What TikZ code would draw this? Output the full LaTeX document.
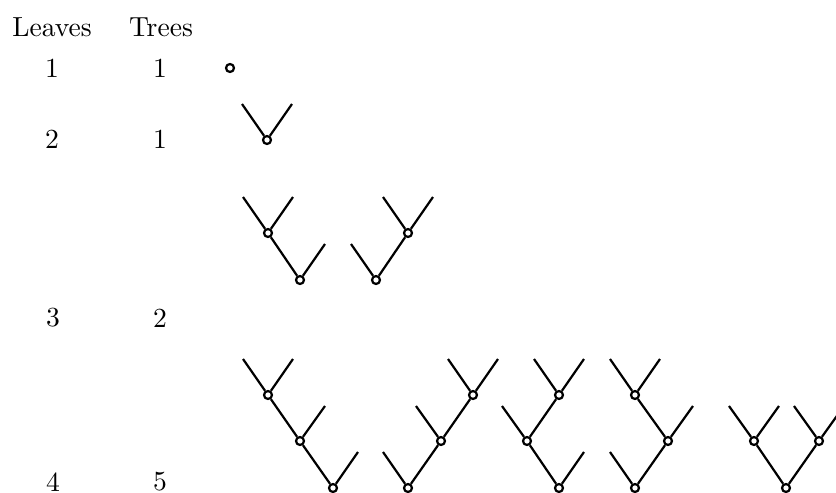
\documentclass[tikz,border=0pt]{standalone}
\usepackage{tikz}

\tikzset{
  vert/.style={draw, circle, line width=0.8pt, inner sep=0pt, minimum size=2.9pt},
  branch/.style={line width=0.8pt}
}

\begin{document}
\begin{tikzpicture}[x=0.3623pt, y=-0.3623pt]
        \useasboundingbox (0,0) rectangle (836,493);

        % Labels
        \node (leaves) at (52,27) {Leaves};
        \node (trees) at (161,27) {Trees};
        \node (leafA) at (52,68) {1};
        \node (treeA) at (160,68) {1};
        \node (leafB) at (52,139) {2};
        \node (treeB) at (160,139) {1};
        \node (leafC) at (53,318) {3};
        \node (treeC) at (160,318) {2};
        \node (leafD) at (53,482) {4};
        \node (treeD) at (160,482) {5};

        % One leaf
        \node[vert] (p) at (230,68) {};

        % Two leaves
        \node[vert] (q) at (267,140) {};
        \coordinate (q1) at (242,104);
        \coordinate (q2) at (292,104);
        \draw[branch] (q) -- (q1);
        \draw[branch] (q) -- (q2);

        % Three leaves
        \node[vert] (ra) at (268,233) {};
        \node[vert] (rb) at (300,280) {};
        \coordinate (ra1) at (243,197);
        \coordinate (ra2) at (293,197);
        \coordinate (rb1) at (325,244);
        \draw[branch] (ra) -- (ra1);
        \draw[branch] (ra) -- (ra2);
        \draw[branch] (ra) -- (rb);
        \draw[branch] (rb) -- (rb1);

        \node[vert] (sa) at (376,280) {};
        \node[vert] (sb) at (408,233) {};
        \coordinate (sa1) at (351,244);
        \coordinate (sb1) at (383,197);
        \coordinate (sb2) at (433,197);
        \draw[branch] (sa) -- (sa1);
        \draw[branch] (sa) -- (sb);
        \draw[branch] (sb) -- (sb1);
        \draw[branch] (sb) -- (sb2);

        % Four leaves
        \node[vert] (ta) at (268,395) {};
        \node[vert] (tb) at (300,441) {};
        \node[vert] (tc) at (333,488) {};
        \coordinate (ta1) at (243,359);
        \coordinate (ta2) at (293,359);
        \coordinate (tb1) at (325,406);
        \coordinate (tc1) at (358,452);
        \draw[branch] (ta) -- (ta1);
        \draw[branch] (ta) -- (ta2);
        \draw[branch] (ta) -- (tb);
        \draw[branch] (tb) -- (tb1);
        \draw[branch] (tb) -- (tc);
        \draw[branch] (tc) -- (tc1);

        \node[vert] (ua) at (408,488) {};
        \node[vert] (ub) at (441,441) {};
        \node[vert] (uc) at (473,395) {};
        \coordinate (ua1) at (383,452);
        \coordinate (ub1) at (416,406);
        \coordinate (uc1) at (448,359);
        \coordinate (uc2) at (498,359);
        \draw[branch] (ua) -- (ua1);
        \draw[branch] (ua) -- (ub);
        \draw[branch] (ub) -- (ub1);
        \draw[branch] (ub) -- (uc);
        \draw[branch] (uc) -- (uc1);
        \draw[branch] (uc) -- (uc2);

        \node[vert] (va) at (559,488) {};
        \node[vert] (vb) at (527,441) {};
        \node[vert] (vc) at (559,395) {};
        \coordinate (va1) at (584,452);
        \coordinate (vb1) at (502,406);
        \coordinate (vc1) at (534,359);
        \coordinate (vc2) at (584,359);
        \draw[branch] (va) -- (vb);
        \draw[branch] (va) -- (va1);
        \draw[branch] (vb) -- (vb1);
        \draw[branch] (vb) -- (vc);
        \draw[branch] (vc) -- (vc1);
        \draw[branch] (vc) -- (vc2);

        \node[vert] (wa) at (635,488) {};
        \node[vert] (wb) at (668,441) {};
        \node[vert] (wc) at (635,395) {};
        \coordinate (wa1) at (610,452);
        \coordinate (wb1) at (693,406);
        \coordinate (wc1) at (610,359);
        \coordinate (wc2) at (660,359);
        \draw[branch] (wa) -- (wa1);
        \draw[branch] (wa) -- (wb);
        \draw[branch] (wb) -- (wb1);
        \draw[branch] (wb) -- (wc);
        \draw[branch] (wc) -- (wc1);
        \draw[branch] (wc) -- (wc2);

        \node[vert] (xa) at (786,488) {};
        \node[vert] (xb) at (754,441) {};
        \node[vert] (xc) at (819,441) {};
        \coordinate (xb1) at (729,406);
        \coordinate (xb2) at (779,406);
        \coordinate (xc1) at (794,406);
        \coordinate (xc2) at (844,406);
        \draw[branch] (xa) -- (xb);
        \draw[branch] (xa) -- (xc);
        \draw[branch] (xb) -- (xb1);
        \draw[branch] (xb) -- (xb2);
        \draw[branch] (xc) -- (xc1);
        \draw[branch] (xc) -- (xc2);
    \end{tikzpicture}
\end{document}
